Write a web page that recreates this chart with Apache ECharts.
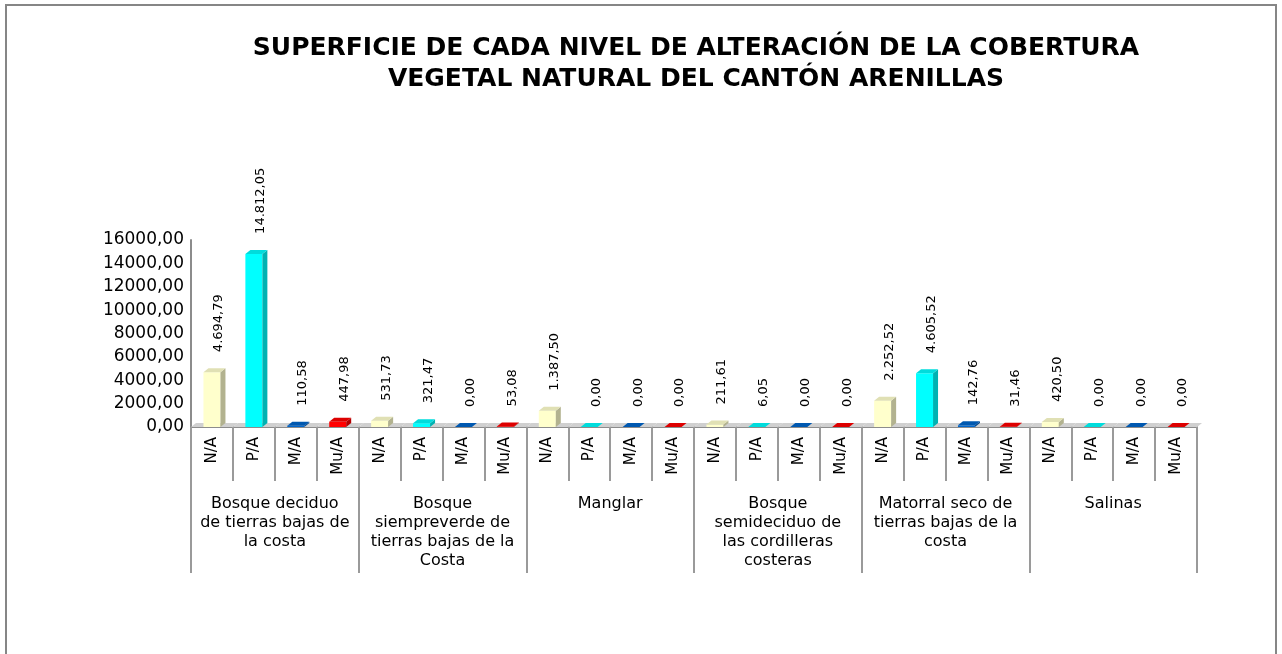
<!DOCTYPE html>
<html>
<head>
<meta charset="utf-8">
<script src="https://cdn.jsdelivr.net/npm/echarts@6/dist/echarts.min.js"></script>
<style>
  html, body { margin: 0; padding: 0; background: #fff; }
  #chart { width: 1282px; height: 654px; }
  #frame { position: absolute; left: 5px; top: 4px; width: 1268px; height: 700px; border: 2px solid #868686; pointer-events: none; }
</style>
</head>
<body>
<div id="chart"></div>
<div id="frame"></div>
<script>
const titleText = "SUPERFICIE DE CADA NIVEL DE ALTERACIÓN DE LA COBERTURA\nVEGETAL NATURAL DEL CANTÓN ARENILLAS";
const groups = [
  "Bosque deciduo\nde tierras bajas de\nla costa",
  "Bosque\nsiempreverde de\ntierras bajas de la\nCosta",
  "Manglar",
  "Bosque\nsemideciduo de\nlas cordilleras\ncosteras",
  "Matorral seco de\ntierras bajas de la\ncosta",
  "Salinas"
];
const subLabels = ["N/A", "P/A", "M/A", "Mu/A"];
const naValues = [4694.79, 531.73, 1387.50, 211.61, 2252.52, 420.50];
const paValues = [14812.05, 321.47, 0.00, 6.05, 4605.52, 0.00];
const maValues = [110.58, 0.00, 0.00, 0.00, 142.76, 0.00];
const muValues = [447.98, 53.08, 0.00, 0.00, 31.46, 0.00];
const yTicks = [0, 2000, 4000, 6000, 8000, 10000, 12000, 14000, 16000];

const frontColors = ["#FFFFCC", "#00FFFF", "#0066CC", "#FF0000"];
const sideColors  = ["#B2B28F", "#00B2B2", "#004890", "#B20000"];
const topColors   = ["#E0E0B4", "#00DCDC", "#0058B0", "#DD0000"];

const seriesValues = [naValues, paValues, maValues, muValues];
const subCats = [];
const flat = [];
groups.forEach((g, gi) => {
  subLabels.forEach((s, si) => {
    subCats.push(s);
    flat.push(seriesValues[si][gi]);
  });
});

function fmt(v) {
  const p = v.toFixed(2).split('.');
  return p[0].replace(/\B(?=(\d{3})+(?!\d))/g, '.') + ',' + p[1];
}

const FONT = "DejaVu Sans, Verdana, sans-serif";
const chart = echarts.init(document.getElementById('chart'));
const HALF = 8.5, DX = 5, DY = 4;

chart.setOption({
  backgroundColor: '#ffffff',
  animation: false,
  title: {
    text: titleText,
    left: 691, top: 28, textAlign: 'center',
    textStyle: { fontFamily: FONT, fontSize: 25, fontWeight: 'bold', color: '#000', lineHeight: 31 }
  },
  grid: { left: 191, right: 85, top: 240, bottom: 227, containLabel: false },
  xAxis: [
    {
      type: 'category', data: subCats, position: 'bottom',
      axisLine: { show: true, lineStyle: { color: '#8c8c8c', width: 2 } },
      axisTick: { show: true, interval: 0, length: 54, lineStyle: { color: '#9a9a9a', width: 2 } },
      axisLabel: { interval: 0, rotate: 90, margin: 10, fontFamily: FONT, fontSize: 15, color: '#000' },
      splitLine: { show: false }
    },
    {
      type: 'category', data: groups, position: 'bottom',
      axisLine: { show: false },
      axisTick: { show: true, interval: 0, length: 146, lineStyle: { color: '#9a9a9a', width: 2 } },
      axisLabel: { interval: 0, margin: 67, fontFamily: FONT, fontSize: 16, lineHeight: 19, color: '#000', align: 'center' },
      splitLine: { show: false }
    }
  ],
  yAxis: {
    type: 'value', min: 0, max: 16000, interval: 2000,
    axisLine: { show: true, lineStyle: { color: '#8c8c8c', width: 2 } },
    axisTick: { show: false },
    splitLine: { show: false },
    axisLabel: { margin: 7, fontFamily: FONT, fontSize: 17, color: '#000', formatter: v => v + ',00' }
  },
  series: [
    {
      type: 'custom', z: 1, xAxisIndex: 0,
      data: flat.map((v, i) => [i, 0]),
      encode: { x: 0, y: 1 },
      renderItem: function (params, api) {
        const p = api.coord([api.value(0), 0]);
        const bw = api.size([1, 0])[0];
        const x0 = p[0] - bw / 2, x1 = p[0] + bw / 2;
        return {
          type: 'polygon', silent: true,
          shape: { points: [[x0, p[1]], [x1, p[1]], [x1 + DX, p[1] - DY], [x0 + DX, p[1] - DY]] },
          style: { fill: '#d0d0d0', stroke: null }
        };
      }
    },
    {
      type: 'bar', z: 2, xAxisIndex: 0, barWidth: 17,
      data: flat.map((v, i) => ({ value: v, itemStyle: { color: frontColors[i % 4] } })),
      label: {
        show: true, position: 'top', rotate: 90, align: 'left', verticalAlign: 'middle',
        distance: 20, offset: [0, 7],
        fontFamily: FONT, fontSize: 13, color: '#000',
        formatter: p => fmt(p.value)
      }
    },
    {
      type: 'custom', z: 3, xAxisIndex: 0,
      data: flat.map((v, i) => [i, v]),
      encode: { x: 0, y: 1 },
      renderItem: function (params, api) {
        const i = api.value(0);
        const b = api.coord([i, 0]);
        const t = api.coord([i, api.value(1)]);
        const xl = t[0] - HALF, xr = t[0] + HALF;
        const c = i % 4;
        return {
          type: 'group', silent: true,
          children: [
            {
              type: 'polygon',
              shape: { points: [[xr, t[1]], [xr + DX, t[1] - DY], [xr + DX, b[1] - DY], [xr, b[1]]] },
              style: { fill: sideColors[c] }
            },
            {
              type: 'polygon',
              shape: { points: [[xl, t[1]], [xr, t[1]], [xr + DX, t[1] - DY], [xl + DX, t[1] - DY]] },
              style: { fill: topColors[c] }
            }
          ]
        };
      }
    }
  ]
});
</script>
</body>
</html>
